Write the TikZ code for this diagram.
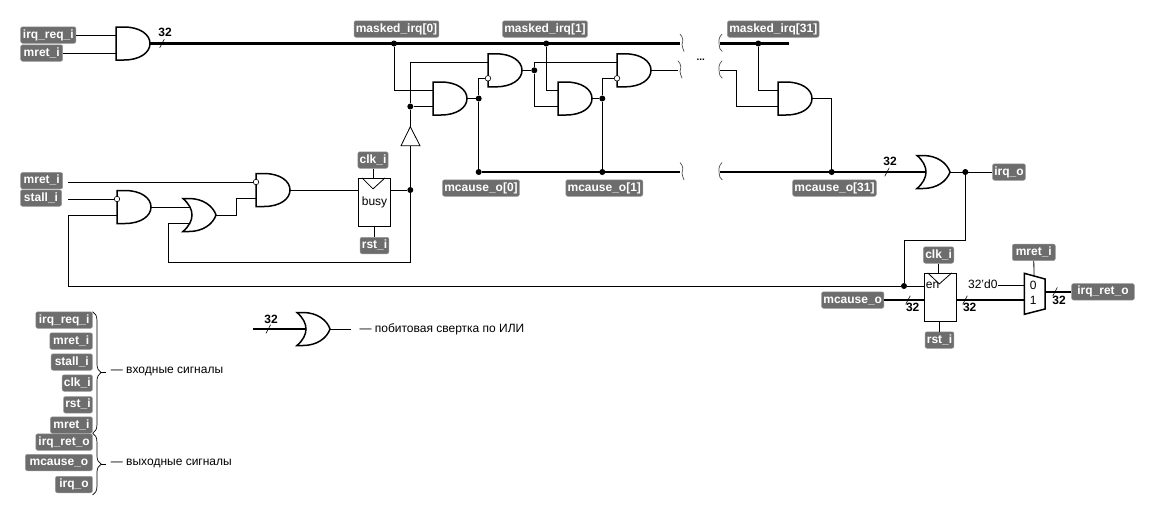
\documentclass[tikz,border=0pt]{standalone}
\usepackage{fontspec}
\setmainfont{Liberation Sans}
\usetikzlibrary{decorations.pathreplacing}
\definecolor{siggray}{HTML}{6D6D6D}
\tikzset{
  every node/.style={font=\fontsize{12}{14}\selectfont},
  wire/.style={line width=0.8pt},
  bus/.style={line width=2.2pt},
  gateline/.style={line width=1.5pt,fill=white},
  sig/.style={rectangle,rounded corners=2pt,fill=siggray,draw=siggray!70,line width=0.5pt,text=white,
    font=\fontsize{12}{14}\selectfont\bfseries,inner xsep=1.8pt,inner ysep=0pt,text height=9pt,text depth=3pt,minimum height=16.5pt},
  dot/.style={circle,fill=black,inner sep=0pt,minimum size=6pt},
  bubble/.style={circle,draw,fill=white,line width=0.6pt,inner sep=0pt,minimum size=5.5pt},
  reg/.style={rectangle,draw,fill=white,line width=0.8pt,inner sep=0pt,minimum width=32.4pt,minimum height=48.4pt},
  buswidth/.style={font=\fontsize{12}{14}\selectfont\bfseries,inner sep=0pt},
  note/.style={anchor=west,inner sep=0pt},
  legbrace/.style={decorate,decoration={brace,amplitude=8.5pt},line width=0.7pt},
  andgate/.pic={
    \draw[gateline] (0,-16.5) -- (8,-16.5) .. controls (24,-16.5) and (34,-9) .. (34,0)
      .. controls (34,9) and (24,16.5) .. (8,16.5) -- (0,16.5) -- cycle;
    \coordinate (-a) at (0,-8);
    \coordinate (-b) at (0,8);
    \coordinate (-o) at (34,0);
  },
  orgate/.pic={
    \draw[gateline] (0,-16.5) -- (6,-16.5) .. controls (20,-16.5) and (30,-9) .. (33,0)
      .. controls (30,9) and (20,16.5) .. (6,16.5) -- (0,16.5) .. controls (12,6) and (12,-6) .. (0,-16.5) -- cycle;
    \coordinate (-a) at (7,-8);
    \coordinate (-b) at (7,8);
    \coordinate (-c) at (9,0);
    \coordinate (-o) at (33,0);
  },
  slash/.pic={\draw[line width=0.6pt] (-2.3,4.3) -- (2.3,-4.3);},
  curlr/.pic={\draw[line width=0.7pt,gray!60!black] (0,-9.5) .. controls (3.5,-6) and (3,-2) .. (2,1) .. controls (2,3) and (3,5) .. (4,8);},
  curll/.pic={\draw[line width=0.7pt,gray!60!black] (2,-9.5) .. controls (-1.5,-6) and (-1.5,-2) .. (-0.7,2) .. controls (-1,4) and (0,6) .. (2.3,8);},
}
\begin{document}
\begin{tikzpicture}[x=1pt,y=-1pt]
  \useasboundingbox (0,0) rectangle (1155,515);

  \pic (g1) at (116,43.5) {andgate};
  \pic (gset) at (256,190) {andgate};
  \pic (gstall) at (117,207) {andgate};
  \pic (gor) at (183,215) {orgate};
  \pic (ga0) at (433,98.5) {andgate};
  \pic (gb0) at (488,70.3) {andgate};
  \pic (ga1) at (558,98.5) {andgate};
  \pic (gb1) at (617,70.3) {andgate};
  \pic (ga31) at (778,98.5) {andgate};
  \pic (gorq) at (917,172) {orgate};
  \pic (gorl) at (297,329) {orgate};

  \node[sig,minimum width=55.3pt] (irqreq) at (48.3,35) {irq\_req\_i};
  \node[sig,minimum width=42pt] (mreta) at (41.7,53) {mret\_i};
  \node[sig,minimum width=42pt] (mretb) at (41.7,180.7) {mret\_i};
  \node[sig,minimum width=41pt] (stall) at (41,198) {stall\_i};
  \node[sig] (clka) at (373,160) {clk\_i};
  \node[sig] (rsta) at (374.5,245.5) {rst\_i};
  \node[sig] (masked0) at (396.5,29) {masked\_irq[0]};
  \node[sig] (masked1) at (545,29) {masked\_irq[1]};
  \node[sig] (masked31) at (773.3,29) {masked\_irq[31]};
  \node[sig] (cause0) at (481,188) {mcause\_o[0]};
  \node[sig] (cause1) at (604.3,188) {mcause\_o[1]};
  \node[sig] (cause31) at (834.5,188) {mcause\_o[31]};
  \node[sig] (irqo) at (1009,172) {irq\_o};
  \node[sig] (clkb) at (938.6,255) {clk\_i};
  \node[sig] (rstb) at (939.5,340) {rst\_i};
  \node[sig] (causeo) at (852.7,300) {mcause\_o};
  \node[sig,minimum width=43pt] (mretm) at (1033.8,252.3) {mret\_i};
  \node[sig,minimum width=62.7pt] (irqret) at (1103,291.8) {irq\_ret\_o};

  \node[reg] (busy) at (374.5,202.5) {busy};
  \node[reg] (cause) at (940.5,297.5) {};
  \node[inner sep=0pt] (en) at (932.5,285.5) {en};
  \draw[wire] ([xshift=-12.5pt]busy.north) -- ([xshift=-1.5pt,yshift=-11pt]busy.north) -- ([xshift=10.5pt]busy.north);
  \draw[wire] ([xshift=-12.8pt]cause.north) -- ([xshift=-1.2pt,yshift=-11pt]cause.north) -- ([xshift=11.2pt]cause.north);

  \coordinate (mux0) at (1024.3,285.3);
  \coordinate (mux1) at (1024.3,300);
  \coordinate (muxo) at (1045,291.8);
  \coordinate (muxs) at (1034,276);
  \draw[gateline] (1024.3,273.3) -- (1045,279) -- (1045,309) -- (1024.3,314.3) -- cycle;
  \node[inner sep=0pt] (mzero) at (1033.3,285.3) {0};
  \node[inner sep=0pt] (mone) at (1033.3,300.7) {1};
  \node[inner sep=0pt] (zero) at (982.8,284) {32'd0};

  \node[dot] (jm0) at (394,43.5) {};
  \node[dot] (jm1) at (546.3,43.5) {};
  \node[dot] (jm31) at (758.3,43.5) {};
  \node[dot] (jq0) at (478.7,98.5) {};
  \node[dot] (jq1) at (602.3,98.5) {};
  \node[dot] (jc0) at (478.7,172) {};
  \node[dot] (jc1) at (602.3,172) {};
  \node[dot] (jc31) at (831.7,172) {};
  \node[dot] (jb0) at (534.3,70.3) {};
  \node[dot] (jen) at (410.3,106.5) {};
  \node[dot] (jbusy) at (410.3,190) {};
  \node[dot] (jirq) at (965.3,172) {};
  \node[dot] (jreg) at (904,286) {};

  \coordinate (brk1) at (680,43.5);
  \coordinate (brk2) at (678,70.3);
  \coordinate (brk3) at (680,172);
  \coordinate (brk4) at (720,43.5);
  \coordinate (brk5) at (720,70.3);
  \coordinate (brk6) at (720,172);
  \coordinate (busend) at (789.3,43.5);
  \coordinate (mrets) at (68.3,182);
  \coordinate (stalls) at (68.3,199);
  \coordinate (fbs) at (68.3,215);
  \coordinate (fbl) at (168.3,262);
  \coordinate (jog) at (965.3,240);
  \coordinate (bufin) at (410.3,145.7);
  \coordinate (bufout) at (410.3,126.7);
  \coordinate (legin) at (253.3,329);
  \coordinate (legout) at (351,329);

  \draw[wire] (irqreq.east) -- (irqreq.east -| g1-a);
  \draw[wire] (mreta.east) -- (mreta.east -| g1-a);
  \draw[bus] (g1-o) -- (brk1);
  \draw[bus] (brk4) -- (busend);
  \draw[bus] (jc0) -- (brk3);
  \draw[bus] (brk6) -- (gorq-c);
  \draw[wire] (jm0) |- (ga0-a);
  \draw[wire] (jen) -- (ga0-b);
  \draw[wire] (jen) |- (gb0-a);
  \draw[wire] (ga0-o) -- (jq0);
  \draw[wire] (jq0) -- (jc0);
  \draw[wire] (gb0-o) -- (jb0);
  \draw[wire] (jb0) |- (gb1-a);
  \draw[wire] (jb0) |- (ga1-b);
  \draw[wire] (jm1) |- (ga1-a);
  \draw[wire] (ga1-o) -- (jq1);
  \draw[wire] (jq1) -- (jc1);
  \draw[wire] (gb1-o) -- (brk2);
  \draw[wire] (brk5) -- ++(16.3,0) |- (ga31-b);
  \draw[wire] (jm31) |- (ga31-a);
  \draw[wire] (ga31-o) -| (jc31);
  \draw[wire] (gorq-o) -- (irqo.west);
  \draw[wire] (jirq) -- (jog) -| (jreg);
  \draw[wire] (gstall-b) -- (fbs) |- (jreg);
  \draw[wire] (jreg) -- (jreg -| cause.west);
  \draw[wire] (gstall-o) -- (gor-a);
  \draw[wire] (gor-o) -- ++(20,0) |- (gset-b);
  \draw[wire] (gset-o) -- (gset-o -| busy.west);
  \draw[wire] (gset-o -| busy.east) -- (jbusy);
  \draw[wire] (clka.south) -- (clka.south |- busy.north);
  \draw[wire] (rsta.north) -- (rsta.north |- busy.south);
  \draw[wire] (jbusy) -- (bufin);
  \draw[wire] (bufout) -- (jen);
  \draw[wire] (jbusy) |- (fbl);
  \draw[wire] (fbl) |- (gor-b);
  \draw[wire,fill=white] (bufout) -- (401,145.7) -- (420,145.7) -- cycle;
  \draw[wire] (clkb.south) -- (clkb.south |- cause.north);
  \draw[wire] (rstb.north) -- (rstb.north |- cause.south);
  \draw[bus] (causeo.east) -- (causeo.east -| cause.west);
  \draw[bus] (causeo.east -| cause.east) -- (mux1);
  \draw[line width=1.5pt] (zero.east |- mux0) -- (mux0);
  \draw[wire] (mretm.south) -- (muxs);
  \draw[bus] (muxo) -- (irqret.west);
  \draw[bus] (legin) -- (gorl-c);
  \draw[wire] (gorl-o) -- (legout);

  \node[bubble] (bset) at (gset-a) {};
  \node[bubble] (bstall) at (gstall-a) {};
  \node[bubble] (bb0) at (gb0-b) {};
  \node[bubble] (bb1) at (gb1-b) {};
  \draw[wire] (mrets) -- (bset);
  \draw[wire] (stalls) -- (bstall);
  \draw[wire] (jq0) |- (bb0);
  \draw[wire] (jq1) |- (bb1);

  \pic at (162,43.5) {slash};
  \pic at (887,172) {slash};
  \pic at (908,300) {slash};
  \pic at (965,300) {slash};
  \pic at (1055,291.8) {slash};
  \pic at (268.3,329) {slash};
  \node[buswidth] (w1) at (165,32.7) {32};
  \node[buswidth] (w2) at (890,161.5) {32};
  \node[buswidth] (w3) at (912.7,307.7) {32};
  \node[buswidth] (w4) at (969.7,307.7) {32};
  \node[buswidth] (w5) at (1059,300.3) {32};
  \node[buswidth] (w6) at (271,319) {32};

  \pic at (brk1) {curlr};
  \pic at (brk2) {curlr};
  \pic at (brk3) {curlr};
  \pic at (brk4) {curll};
  \pic at (brk5) {curll};
  \pic at (brk6) {curll};
  \node[font=\fontsize{10}{11}\selectfont\bfseries,inner sep=0pt] (dots) at (700.7,59.3) {...};

  \node[sig,anchor=east,minimum width=56.7pt] (l1) at (92.7,320) {irq\_req\_i};
  \node[sig,anchor=east,minimum width=42.7pt] (l2) at (92.7,341) {mret\_i};
  \node[sig,anchor=east,minimum width=41.3pt] (l3) at (92.7,362) {stall\_i};
  \node[sig,anchor=east] (l4) at (92.7,383) {clk\_i};
  \node[sig,anchor=east] (l5) at (92.7,404.8) {rst\_i};
  \node[sig,anchor=east,minimum width=42pt] (l6) at (92.7,425) {mret\_i};
  \node[sig,anchor=east,minimum width=56.7pt] (l7) at (92.7,442) {irq\_ret\_o};
  \node[sig,anchor=east,minimum width=67pt] (l8) at (92.7,462.5) {mcause\_o};
  \node[sig,anchor=east,minimum width=37pt] (l9) at (92.7,484.5) {irq\_o};
  \draw[legbrace] (92.7,311.7) -- (92.7,433.3);
  \draw[legbrace] (92.7,433.3) -- (92.7,495);
  \coordinate (tip1) at (101,372.5);
  \coordinate (tip2) at (101,464.2);
  \node[note] (n1) at (110.7,371) {— входные сигналы};
  \node[note] (n2) at (110.7,463) {— выходные сигналы};
  \draw[line width=0.7pt] (tip1) -- ++(5,0);
  \draw[line width=0.7pt] (tip2) -- ++(5,0);
  \node[note] (n3) at (359.3,329) {— побитовая свертка по ИЛИ};
\end{tikzpicture}
\end{document}
